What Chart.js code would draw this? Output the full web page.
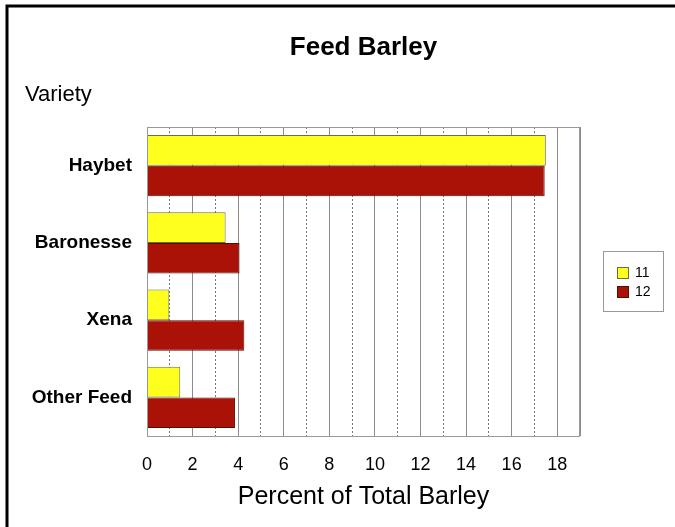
<!DOCTYPE html>
<html>
<head>
<meta charset="utf-8">
<script src="https://cdn.jsdelivr.net/npm/chart.js@4/dist/chart.umd.min.js"></script>
<style>
  html, body { margin: 0; padding: 0; background: #fff; }
  #wrap { width: 675px; height: 527px; }
</style>
</head>
<body>
<div id="wrap"><canvas id="barleyChart" width="675" height="527"></canvas></div>
<script>
const varieties = ["Haybet", "Baronesse", "Xena", "Other Feed"];
const years = ["11", "12"];
const pct11 = [17.5, 3.45, 0.98, 1.46];
const pct12 = [17.45, 4.06, 4.27, 3.86];
const xTicks = [0, 2, 4, 6, 8, 10, 12, 14, 16, 18];

const FONT = "'Liberation Sans', Arial, sans-serif";

// frame, titles and boxed legend
const decorations = {
  id: "decorations",
  beforeDraw(chart) {
    const ctx = chart.ctx;
    ctx.save();
    ctx.fillStyle = "#fff";
    ctx.fillRect(0, 0, chart.width, chart.height);
    ctx.strokeStyle = "#000";
    ctx.lineWidth = 3;
    ctx.beginPath();
    ctx.moveTo(7, chart.height);
    ctx.lineTo(7, 6);
    ctx.lineTo(chart.width, 6);
    ctx.stroke();
    ctx.restore();
  },
  afterDraw(chart) {
    const ctx = chart.ctx;
    const a = chart.chartArea;
    ctx.save();
    ctx.strokeStyle = "#999";
    ctx.lineWidth = 1;
    ctx.strokeRect(a.left + 0.5, a.top + 0.5, a.right - a.left - 1, a.bottom - a.top);

    ctx.fillStyle = "#000";
    ctx.textBaseline = "middle";
    ctx.textAlign = "center";
    ctx.font = "bold 26px " + FONT;
    ctx.fillText("Feed Barley", (a.left + a.right) / 2, 48);
    ctx.textAlign = "left";
    ctx.font = "22px " + FONT;
    ctx.fillText("Variety", 25, 95);

    // legend
    ctx.strokeStyle = "#999";
    ctx.strokeRect(603.5, 251.5, 60, 60);
    ctx.font = "14px " + FONT;
    chart.data.datasets.forEach((ds, i) => {
      const y = 267 + i * 19;
      ctx.fillStyle = ds.backgroundColor;
      ctx.fillRect(617, y, 12, 12);
      ctx.strokeStyle = ds.borderColor;
      ctx.strokeRect(617.5, y + 0.5, 11, 11);
      ctx.fillStyle = "#000";
      ctx.fillText(ds.label, 635, y + 6);
    });
    ctx.restore();
  }
};

new Chart(document.getElementById("barleyChart"), {
  type: "bar",
  data: {
    labels: varieties,
    datasets: [
      { label: years[0], data: pct11, backgroundColor: "#ffff1e", borderColor: "#6e6e3c", borderWidth: 1 },
      { label: years[1], data: pct12, backgroundColor: "#aa1107", borderColor: "#5a0a04", borderWidth: 1 }
    ]
  },
  options: {
    indexAxis: "y",
    responsive: false,
    animation: false,
    layout: { padding: { top: 127, right: 95, left: 0, bottom: 0 } },
    categoryPercentage: 0.79,
    barPercentage: 1,
    plugins: {
      legend: { display: false },
      title: { display: false },
      tooltip: { enabled: false }
    },
    scales: {
      x: {
        type: "linear",
        position: "bottom",
        min: 0,
        max: 19,
        afterBuildTicks(scale) {
          scale.ticks = xTicks.concat([19]).map(v => ({ value: v }));
        },
        afterFit(scale) { scale.height = 91; },
        grid: { color: "#8c8c8c", lineWidth: 1, drawTicks: false },
        border: { display: false },
        ticks: {
          padding: 18,
          color: "#000",
          font: { family: FONT, size: 18 },
          callback: v => (xTicks.includes(v) ? String(v) : "")
        },
        title: {
          display: true,
          text: "Percent of Total Barley",
          color: "#000",
          font: { family: FONT, size: 25 },
          padding: { top: 0, bottom: 15 }
        }
      },
      x2: {
        type: "linear",
        position: "bottom",
        min: 0,
        max: 19,
        afterBuildTicks(scale) {
          scale.ticks = xTicks.map(v => ({ value: v + 1 })).filter(t => t.value < 19);
        },
        afterFit(scale) { scale.height = 0; },
        grid: { color: "#777", lineWidth: 1, drawTicks: false },
        border: { display: false, dash: [2, 2] },
        ticks: { display: false }
      },
      y: {
        type: "category",
        afterFit(scale) { scale.width = 147; },
        grid: { display: false, drawTicks: false },
        border: { display: false },
        ticks: {
          padding: 15,
          color: "#000",
          font: { family: FONT, size: 19, weight: "bold" }
        }
      }
    }
  },
  plugins: [decorations]
});
</script>
</body>
</html>
